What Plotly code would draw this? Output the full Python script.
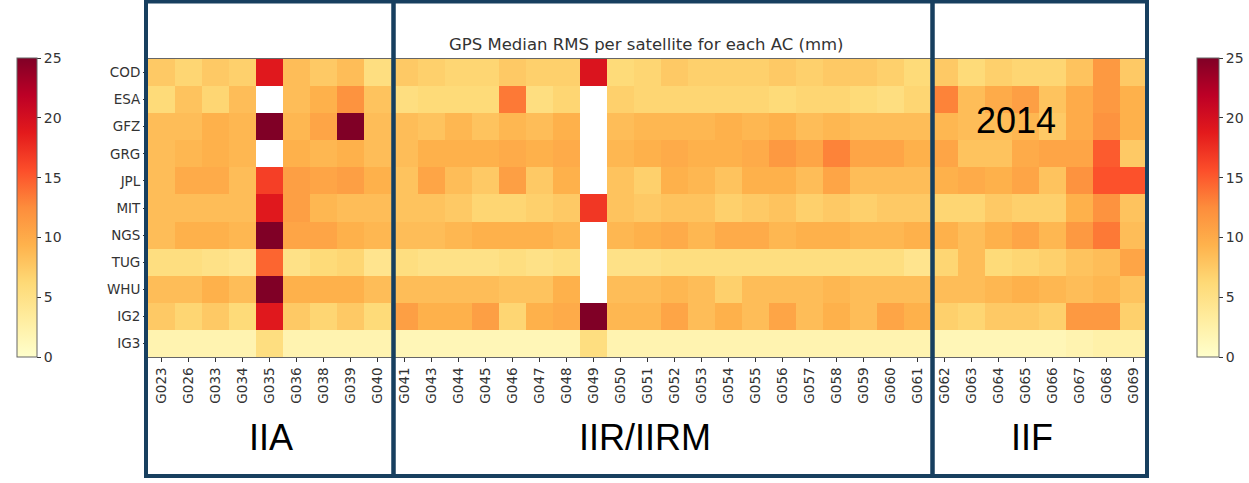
import plotly.graph_objects as go

W, H = 1249, 483

# Analysis centres (rows) and satellites (columns) grouped by block
acs = ["COD", "ESA", "GFZ", "GRG", "JPL", "MIT", "NGS", "TUG", "WHU", "IG2", "IG3"]
sats_iia = ["G023", "G026", "G033", "G034", "G035", "G036", "G038", "G039", "G040"]
sats_iir = ["G041", "G043", "G044", "G045", "G046", "G047", "G048", "G049", "G050", "G051",
            "G052", "G053", "G054", "G055", "G056", "G057", "G058", "G059", "G060", "G061"]
sats_iif = ["G062", "G063", "G064", "G065", "G066", "G067", "G068", "G069"]
sats = sats_iia + sats_iir + sats_iif

# Median RMS (mm), one list per AC; None = no solution
rms_cod = [7.5, 6.5, 7.5, 7, 19, 8.5, 7.5, 8.5, 5.5,
           7.5, 7, 6.5, 6.5, 7.5, 7, 7, 19.5, 6, 6.5, 7.5, 7, 7, 7, 7.5, 7, 7.5, 7.5, 7, 6,
           7.5, 6, 7, 6.5, 6.5, 8, 11.5, 7.5]
rms_esa = [6, 8, 6.5, 8.5, None, 8.5, 9.5, 12, 8,
           5.5, 6, 6, 6, 13.5, 5.5, 6.5, None, 7, 6.5, 6.5, 6.5, 6.5, 6.5, 6, 6.5, 6.5, 6, 5.5, 6.5,
           13, 8.5, 10, 11, 8, 10, 11.5, 9.5]
rms_gfz = [8.5, 8.5, 9.5, 9, 25, 9, 10.5, 25, 8.5,
           8.5, 8, 9, 8, 9, 8.5, 9.5, None, 8.5, 9, 9, 9, 9.5, 9, 9.5, 8.5, 9, 8.5, 8.5, 8.5,
           9, 8.5, 8.5, 9, 7.5, 10, 12, 9.5]
rms_grg = [8.5, 9, 9.5, 9, None, 9.5, 9, 9.5, 8.5,
           8.5, 9.5, 9.5, 9.5, 10, 9.5, 10, None, 9, 9.5, 10, 9.5, 9.5, 10, 11.5, 10.5, 13, 10.5, 10.5, 9.5,
           10.5, 8, 8, 10, 10.5, 10.5, 15, 7.5]
rms_jpl = [8.5, 10, 10, 8.5, 16.5, 11, 10.5, 11, 9.5,
           8, 10.5, 8.5, 7.5, 11, 7.5, 9.5, None, 8, 7, 9.5, 9, 8, 9.5, 9.5, 8.5, 10.5, 8.5, 8.5, 8.5,
           9.5, 10, 9.5, 10.5, 8, 12, 15.5, 15.5]
rms_mit = [8.5, 8.5, 8.5, 8.5, 19, 11, 9, 8.5, 8.5,
           8, 8, 7.5, 6.5, 6.5, 7, 7.5, 17, 8, 7.5, 8, 8, 7, 7.5, 8, 7, 7.5, 7, 7.5, 7.5,
           6.5, 6.5, 7.5, 7, 7, 9.5, 12, 8]
rms_ngs = [8.5, 9.5, 9.5, 9, 25, 10.5, 10.5, 9.5, 9,
           8.5, 8.5, 9, 9.5, 9.5, 9.5, 9, None, 9, 9.5, 10, 9, 10, 10, 9, 9.5, 9.5, 9, 9, 9.5,
           9.5, 8.5, 9.5, 10.5, 9, 11.5, 13.5, 8.5]
rms_tug = [5.5, 5.5, 5, 4.5, 14.5, 5, 6, 6.5, 4.5,
           5.5, 5, 5, 5, 5.5, 5, 5.5, None, 5, 5, 5.5, 5.5, 5.5, 5.5, 5.5, 5.5, 5.5, 5.5, 5.5, 4.5,
           6.5, 8.5, 6, 6.5, 7, 8, 8.5, 10.5]
rms_whu = [8.5, 8.5, 9.5, 8.5, 25, 9.5, 9.5, 9.5, 8.5,
           8.5, 8.5, 8.5, 8.5, 8, 8, 9.5, None, 8.5, 8.5, 9, 8.5, 7, 8.5, 8.5, 8.5, 9, 8.5, 8.5, 8.5,
           8.5, 8.5, 9, 9.5, 9, 8.5, 9, 8]
rms_ig2 = [7.5, 6.5, 7.5, 6, 19, 7.5, 6.5, 7.5, 6,
           11, 9.5, 9.5, 11, 6.5, 9.5, 10, 25, 9, 9, 10.5, 8.5, 9.5, 8.5, 10.5, 8.5, 9.5, 8.5, 10.5, 9.5,
           7, 6.5, 7.5, 7.5, 7, 11.5, 11.5, 7]
rms_ig3 = [2, 2, 2, 2, 5.5, 2, 2, 2, 2,
           1.5, 1.5, 1.5, 1.5, 1.5, 1.5, 1.5, 5.5, 2, 2, 2, 2, 2, 2, 2, 2, 2, 2, 2, 2,
           1.5, 1.5, 1.5, 1.5, 1.5, 2, 2.5, 2.5]

z = [rms_cod, rms_esa, rms_gfz, rms_grg, rms_jpl, rms_mit,
     rms_ngs, rms_tug, rms_whu, rms_ig2, rms_ig3]

cbar_ticks = [0, 5, 10, 15, 20, 25]
group_labels = ["IIA", "IIR/IIRM", "IIF"]

ylorrd = [
    [0.000, "rgb(255,255,204)"], [0.125, "rgb(255,237,160)"], [0.250, "rgb(254,217,118)"],
    [0.375, "rgb(254,178,76)"], [0.500, "rgb(253,141,60)"], [0.625, "rgb(252,78,42)"],
    [0.750, "rgb(227,26,28)"], [0.875, "rgb(189,0,38)"], [1.000, "rgb(128,0,38)"],
]


def px(x):
    return x / W


def py(y):
    return 1 - y / H


# plot area in pixels
X0, X1, Y0, Y1 = 148, 1147, 59, 357
TICK_FONT = dict(family="DejaVu Sans", size=13.5, color="#333")


def cbar(x_left, thick):
    return dict(
        x=px(x_left), xanchor="left", xpad=0, ypad=0,
        y=py((Y0 + Y1) / 2 - 0.5), yanchor="middle",
        len=(Y1 - Y0 + 1) / H, lenmode="fraction",
        thickness=thick, thicknessmode="pixels",
        outlinecolor="#666", outlinewidth=1,
        tickvals=cbar_ticks, ticks="outside", ticklen=4, tickcolor="#333",
        tickfont=dict(family="DejaVu Sans", size=14, color="#333"),
    )


fig = go.Figure()
fig.add_trace(go.Heatmap(
    z=z, x=sats, y=acs,
    colorscale=ylorrd, zmin=0, zmax=25,
    colorbar=cbar(1197, 22),
    hoverongaps=False,
))
# second (left-hand) colour bar for the same scale
fig.add_trace(go.Scatter(
    x=[None], y=[None], mode="markers", hoverinfo="skip", showlegend=False,
    marker=dict(color=[0], colorscale=ylorrd, cmin=0, cmax=25, showscale=True,
                colorbar=cbar(17, 20)),
))

fig.update_xaxes(
    domain=[px(X0), px(X1)], tickangle=-90, ticks="outside", ticklen=4, tickcolor="#333",
    tickfont=TICK_FONT,
    showline=True, linecolor="#666", linewidth=1, mirror=True, showgrid=False,
)
fig.update_yaxes(
    domain=[py(Y1), py(Y0)], autorange="reversed", ticks="outside", ticklen=4, tickcolor="#333",
    tickfont=TICK_FONT,
    showline=False, showgrid=False,
)

# group boxes
box_color = "#173f5f"
edges = [146, 393.5, 932.5, 1147]
shapes = []
for i in range(3):
    shapes.append(dict(
        type="rect", xref="paper", yref="paper",
        x0=px(edges[i]), x1=px(edges[i + 1]), y0=py(476), y1=py(1.5),
        line=dict(color=box_color, width=4), fillcolor="rgba(0,0,0,0)", layer="above",
    ))


def label(text, cx, cy, size, family, color):
    return dict(text=text, x=px(cx), y=py(cy), xref="paper", yref="paper",
                xanchor="center", yanchor="middle", showarrow=False,
                font=dict(family=family, size=size, color=color))


annotations = [
    label("GPS Median RMS per satellite for each AC (mm)", 646, 44, 16.5, "DejaVu Sans", "#333"),
    label("2014", 1016, 120, 36, "Liberation Sans", "black"),
]
for text, cx in zip(group_labels, [271, 645, 1032]):
    annotations.append(label(text, cx, 437, 36, "Liberation Sans", "black"))

fig.update_layout(
    width=W, height=H, margin=dict(l=0, r=0, t=0, b=0),
    paper_bgcolor="white", plot_bgcolor="white",
    shapes=shapes, annotations=annotations, showlegend=False,
)

fig.write_html("out.html")
